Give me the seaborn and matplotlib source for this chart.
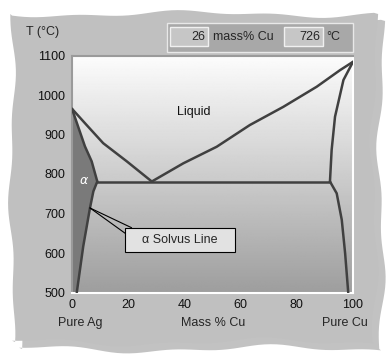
import numpy as np
import matplotlib
matplotlib.use('Agg')
import matplotlib.pyplot as plt
import matplotlib.patches as mpatches
import pandas as pd
import seaborn as sns

# ── Ag–Cu phase diagram (mass % Cu, °C) ──
liq_ag_x = [0, 5.2, 11.1, 19.5, 28.4]
liq_ag_t = [965, 924, 878, 832, 781]
liq_cu_x = [28.4, 39.6, 51.5, 63.3, 75.2, 87.1, 95.4, 100]
liq_cu_t = [781, 827, 869, 924, 970, 1021, 1063, 1084]
sol_ag_x = [0, 4.6, 7.0, 9.0]
sol_ag_t = [965, 870, 832, 781]
solv_ag_x = [9.0, 7.6, 6.4, 4.0, 1.7]
solv_ag_t = [781, 756, 714, 617, 500]
eut_x = [9.0, 91.8]
eut_t = [781, 781]
sol_cu_x = [91.8, 92.4, 93.6, 96.6, 100]
sol_cu_t = [781, 861, 945, 1038, 1084]
solv_cu_x = [91.8, 94.2, 96.0, 97.2, 98.3]
solv_cu_t = [781, 751, 684, 599, 500]

x_ticks = [0, 20, 40, 60, 80, 100]
y_ticks = [500, 600, 700, 800, 900, 1000, 1100]
readout_comp = '26'
readout_temp = '726'

sns.set_style('white')
plt.rcParams['font.family'] = ['Liberation Sans', 'DejaVu Sans']

W, H = 390, 355
fig = plt.figure(figsize=(W / 100, H / 100), dpi=100)
fig.patch.set_facecolor('white')

# ── wavy grey panel with shadow (pixel coords -> figure fraction) ──
def edge(a, b, n, amp, ph):
    t = np.linspace(0, 1, n)
    return a + (b - a) * t, amp * np.sin(t * 9 + ph) + 0.6 * amp * np.sin(t * 23 + 2 * ph)

def panel(x0, y0, x1, y1, dx=0, dy=0):
    tx, tw = edge(x0, x1, 60, 2.5, 0.3)
    ry, rw = edge(y0, y1, 60, 3.0, 1.1)
    bx, bw = edge(x1, x0, 60, 3.0, 2.0)
    ly, lw_ = edge(y1, y0, 60, 2.5, 0.7)
    xs = np.concatenate([tx, x1 + rw, bx, x0 + lw_]) + dx
    ys = np.concatenate([y0 + tw, ry, y1 + bw, ly]) + dy
    return np.column_stack([xs / W, 1 - ys / H])

fig.patches.append(mpatches.Polygon(panel(12, 14, 374, 342, 7, 7), closed=True,
                                    transform=fig.transFigure, fc='#9a9a9a', ec='none', alpha=0.6, zorder=-2))
fig.patches.append(mpatches.Polygon(panel(12, 14, 374, 342), closed=True,
                                    transform=fig.transFigure, fc='#c0c0c0', ec='none', zorder=-1))

# ── plot area ──
ax = fig.add_axes([72 / W, 1 - 292.5 / H, 281 / W, 237 / H])
ax.set_zorder(1)
ax.set_xlim(0, 100)
ax.set_ylim(500, 1100)
grad = np.linspace(0.62, 0.99, 256).reshape(-1, 1)
ax.imshow(grad, extent=[0, 100, 500, 1100], origin='lower', aspect='auto',
          cmap='gray', vmin=0, vmax=1, zorder=0)

# alpha single-phase region
ax.fill(sol_ag_x + solv_ag_x[1:] + [0], sol_ag_t + solv_ag_t[1:] + [500],
        color='#7a7a7a', lw=0, zorder=1)

curves = [(liq_ag_x, liq_ag_t), (liq_cu_x, liq_cu_t), (sol_ag_x, sol_ag_t),
          (solv_ag_x, solv_ag_t), (eut_x, eut_t), (sol_cu_x, sol_cu_t),
          (solv_cu_x, solv_cu_t)]
for cx, ct in curves:
    d = pd.DataFrame({'x': cx, 't': ct})
    sns.lineplot(data=d, x='x', y='t', sort=False, estimator=None,
                 color='#404040', lw=1.8, ax=ax, zorder=3)

ax.text(37.3, 958, 'Liquid', fontsize=9, va='center', ha='left', color='#111')
ax.text(4.3, 783, r'$\alpha$', fontsize=9, va='center', ha='center', color='white')

# callout for the alpha solvus
ax.plot([6.4, 21.2], [714, 664], color='black', lw=0.8, zorder=4)
ax.plot([6.4, 18.9], [714, 650], color='black', lw=0.8, zorder=4)
ax.add_patch(mpatches.Rectangle((18.9, 603), 39.1, 61, fc='#e2e2e2', ec='black', lw=0.8, zorder=5))
ax.text(38.4, 633, 'α Solvus Line', fontsize=9, ha='center', va='center', zorder=6)

ax.set_xticks(x_ticks)
ax.set_yticks(y_ticks)
ax.tick_params(length=0, labelsize=9, pad=5, colors='#111')
ax.set_xlabel('')
ax.set_ylabel('')
for s in ['left', 'top']:
    ax.spines[s].set_color('#9a9a9a')
for s in ['right', 'bottom']:
    ax.spines[s].set_color('white')
for s in ax.spines.values():
    s.set_linewidth(1.5)

fig.text(43 / W, 1 - 32 / H, 'T (°C)', fontsize=9, ha='center', va='center')
fig.text(80 / W, 1 - 323 / H, 'Pure Ag', fontsize=9, ha='center', va='center')
fig.text(213 / W, 1 - 323 / H, 'Mass % Cu', fontsize=9, ha='center', va='center')
fig.text(345 / W, 1 - 323 / H, 'Pure Cu', fontsize=9, ha='center', va='center')

# ── readout bar at the top ──
def box(x0, y0, x1, y1, fc, ec, lw=1.0):
    fig.patches.append(mpatches.Rectangle((x0 / W, 1 - y1 / H), (x1 - x0) / W, (y1 - y0) / H,
                                          transform=fig.transFigure, fc=fc, ec=ec, lw=lw, zorder=2))

box(166.7, 23.3, 352.7, 51.7, '#a8a8a8', '#e8e8e8')
box(170, 27.3, 207.7, 45.7, '#c6c6c6', '#f0f0f0')
box(284.3, 27.3, 323.3, 45.7, '#c6c6c6', '#f0f0f0')
fig.text(205 / W, 1 - 37 / H, readout_comp, fontsize=9, ha='right', va='center', zorder=3)
fig.text(213 / W, 1 - 37.5 / H, 'mass% Cu', fontsize=9, ha='left', va='center', zorder=3)
fig.text(320 / W, 1 - 37 / H, readout_temp, fontsize=9, ha='right', va='center', zorder=3)
fig.text(326 / W, 1 - 37.5 / H, '°C', fontsize=9, ha='left', va='center', zorder=3)

fig.savefig('out.png', dpi=100)
